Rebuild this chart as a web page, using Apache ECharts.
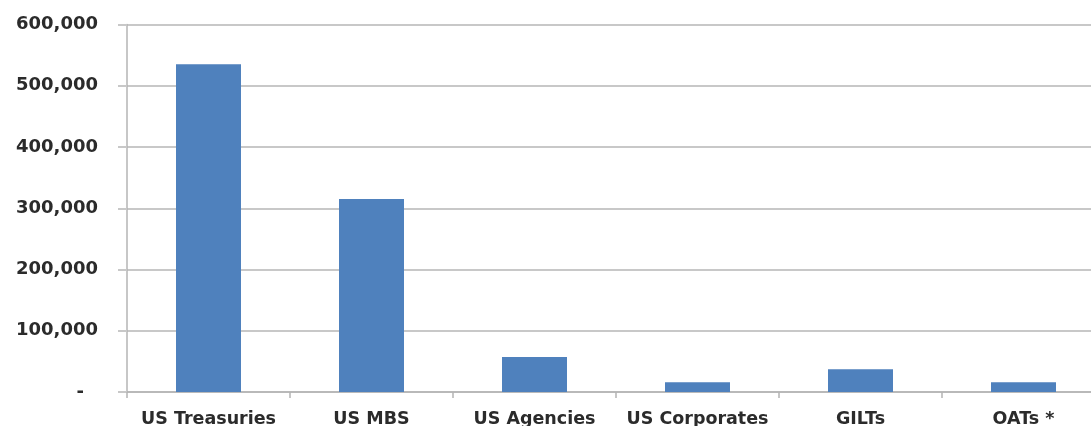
<!DOCTYPE html>
<html>
<head>
<meta charset="utf-8">
<script src="https://cdn.jsdelivr.net/npm/echarts@6/dist/echarts.min.js"></script>
<style>
  html, body { margin: 0; padding: 0; background: #fff; overflow: hidden; }
  #wrap { width: 1091px; height: 426px; overflow: hidden; position: relative; }
  /* the source picture is cut off on the right, so the chart runs past the window */
  #chart { width: 1105px; height: 426px; position: absolute; left: 0; top: 0; }
</style>
</head>
<body>
<div id="wrap"><div id="chart"></div></div>
<script>
// categories and values
var categories = ['US Treasuries', 'US MBS', 'US Agencies', 'US Corporates', 'GILTs', 'OATs *'];
var holdings = [535000, 315000, 57000, 16000, 37000, 16000];
var yTicks = [0, 100000, 200000, 300000, 400000, 500000, 600000];

var chart = echarts.init(document.getElementById('chart'));

// Excel style number: 100,000 and "-" for zero
function fmtNum(v) {
	if (v === 0) {
		return '{dash|-}';
	}
	return String(v).replace(/\B(?=(\d{3})+(?!\d))/g, ',');
}

var option = {
	animation: false,
	grid: {
		left: 127,
		right: 0,
		top: 24.5,
		bottom: 34,
		outerBoundsMode: 'none'
	},
	xAxis: {
		type: 'category',
		data: categories,
		axisLine: { lineStyle: { color: '#b4b4b4', width: 1.5 } },
		axisTick: { show: true, interval: 0, length: 6, lineStyle: { color: '#b4b4b4', width: 1.5 } },
		axisLabel: {
			interval: 0,
			hideOverlap: false,
			margin: 18,
			fontFamily: 'DejaVu Sans',
			fontWeight: 'bold',
			fontSize: 17.5,
			color: '#2b2b2b'
		}
	},
	yAxis: {
		type: 'value',
		min: yTicks[0],
		max: yTicks[yTicks.length - 1],
		interval: 100000,
		axisLine: { show: true, lineStyle: { color: '#b4b4b4', width: 1.5 } },
		axisTick: { show: true, length: 9, lineStyle: { color: '#c8c8c8', width: 2 } },
		splitLine: { lineStyle: { color: '#c8c8c8', width: 2 } },
		axisLabel: {
			margin: 29,
			fontFamily: 'DejaVu Sans',
			fontWeight: 'bold',
			fontSize: 18,
			color: '#2b2b2b',
			formatter: fmtNum,
			rich: {
				dash: {
					fontFamily: 'DejaVu Sans',
					fontWeight: 'bold',
					fontSize: 18,
					color: '#2b2b2b',
					padding: [0, 14, 0, 0]
				}
			}
		}
	},
	series: [{
		type: 'bar',
		data: holdings,
		barWidth: 65,
		itemStyle: { color: '#4f81bd' }
	}]
};

chart.setOption(option);
</script>
</body>
</html>
